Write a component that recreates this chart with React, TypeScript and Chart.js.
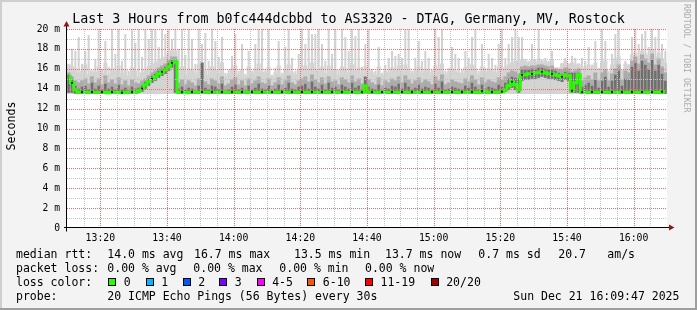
import React, { useEffect, useRef } from 'react';
import { Chart, registerables } from 'chart.js';

Chart.register(...registerables);

// ---- time axis (minutes after 13:00) ----
const FIRST_MINUTE = 10; // 13:10
const LAST_MINUTE = 190; // 16:10
const timeTickMinutes = [20, 40, 60, 80, 100, 120, 140, 160, 180];
const timeTickLabels = ['13:20', '13:40', '14:00', '14:20', '14:40', '15:00', '15:20', '15:40', '16:00'];
const minorTimeStep = 5;

// ---- value axis (ms) ----
const yTickValues = [0, 2, 4, 6, 8, 10, 12, 14, 16, 18, 20];
const yTickLabels = ['0', '2 m', '4 m', '6 m', '8 m', '10 m', '12 m', '14 m', '16 m', '18 m', '20 m'];
const minorValueStep = 1;

const PING_FLOOR = 13.5;

// one value per minute, 13:10 ... 16:09
const medianRtt = [
  15.2, 14.6, 13.9, 13.65, 13.65, 13.65, 13.65, 13.65, 13.65, 13.65,
  13.65, 13.65, 13.6, 13.65, 13.65, 13.65, 13.6, 13.65, 13.65, 13.65,
  13.65, 13.8, 14.0, 14.4, 14.7, 15.0, 15.2, 15.5, 15.7, 15.9,
  16.2, 16.6, 16.7, 13.65, 13.65, 13.6, 13.65, 13.65, 13.65, 13.65,
  13.65, 13.65, 13.65, 13.65, 13.65, 13.65, 13.65, 13.65, 13.65, 13.65,
  13.65, 13.65, 13.65, 13.65, 13.65, 13.65, 13.65, 13.65, 13.65, 13.65,
  13.65, 13.65, 13.65, 13.65, 13.65, 13.65, 13.65, 13.65, 13.65, 13.65,
  13.65, 13.65, 13.65, 13.65, 13.65, 13.65, 13.65, 13.65, 13.65, 13.65,
  13.65, 13.65, 13.65, 13.65, 13.65, 13.65, 13.65, 13.65, 13.65, 14.3,
  13.65, 13.65, 13.65, 13.65, 13.65, 13.65, 13.65, 13.65, 13.65, 13.65,
  13.65, 13.65, 13.65, 13.65, 13.65, 13.65, 13.65, 13.65, 13.65, 13.65,
  13.65, 13.65, 13.65, 13.65, 13.65, 13.65, 13.65, 13.65, 13.65, 13.65,
  13.65, 13.65, 13.65, 13.65, 13.75, 13.75, 13.65, 13.65, 13.65, 13.65,
  13.7, 13.9, 14.3, 14.7, 14.4, 13.9, 15.4, 15.4, 15.5, 15.5,
  15.6, 15.6, 15.7, 15.6, 15.5, 15.5, 15.4, 15.3, 15.2, 15.4,
  15.3, 13.8, 14.6, 15.4, 13.65, 13.65, 13.65, 13.65, 13.65, 13.65,
  13.65, 13.65, 13.65, 13.65, 13.65, 13.65, 13.65, 13.65, 13.65, 13.65,
  13.65, 13.65, 13.65, 13.65, 13.65, 13.65, 13.65, 13.65, 13.7, 13.7,
];

const pingMax = [
  16.5, 18.0, 17.8, 19.2, 16.5, 17.8, 19.4, 15.8, 17.0, 20,
  16.0, 18.8, 16.2, 20, 17.5, 20, 16.8, 19.5, 15.8, 20,
  18.6, 20, 17.2, 20, 19.0, 20, 20, 18.2, 20, 19.5,
  20, 19.0, 20, 18.0, 20, 17.4, 20, 19.0, 16.5, 20,
  18.5, 19.6, 16.8, 20, 18.8, 17.2, 19.2, 15.6, 15.9, 17.3,
  19.5, 15.8, 18.5, 15.5, 17.8, 15.8, 18.5, 20, 20, 16.0,
  20, 15.4, 16.1, 18.8, 15.6, 18.2, 20, 17.1, 15.8, 17.5,
  20, 18.5, 20, 19.5, 19.5, 20, 18.5, 16.8, 20, 17.5,
  20, 15.9, 20, 19.2, 17.8, 20, 19.3, 20, 16.2, 18.5,
  20, 16.0, 15.8, 18.2, 15.6, 16.4, 17.1, 17.8, 17.3, 17.5,
  17.1, 20, 20, 15.8, 17.1, 18.8, 16.8, 17.8, 17.1, 15.9,
  20, 19.2, 20, 15.8, 16.1, 18.2, 17.5, 17.1, 15.9, 17.8,
  17.1, 19.2, 20, 15.8, 18.5, 16.1, 17.5, 17.1, 16.4, 18.5,
  20, 17.1, 18.5, 19.2, 20, 19.2, 19.2, 17.0, 16.8, 18.5,
  16.9, 20, 16.9, 17.1, 16.8, 17.8, 16.1, 16.1, 16.6, 17.1,
  16.5, 17.3, 17.1, 16.5, 17.1, 16.8, 18.2, 16.4, 18.8, 16.1,
  20, 18.8, 15.8, 17.5, 19.5, 20, 15.9, 16.8, 16.4, 19.2,
  20, 18.5, 19.5, 19.8, 18.2, 20, 19.2, 20, 18.5, 17.8,
];

const smokeBand = [
  16.4, 16.2, 16.0, 15.6, 15.8, 16.4, 15.4, 15.8, 15.6, 16.2,
  15.5, 16.6, 15.4, 16.0, 15.8, 16.3, 15.5, 15.9, 15.3, 16.1,
  15.8, 15.2, 15.6, 15.9, 16.2, 16.4, 16.6, 16.9, 17.0, 17.2,
  17.5, 17.8, 17.8, 15.6, 16.2, 15.4, 16.0, 15.8, 15.5, 16.4,
  16.6, 15.8, 15.4, 16.2, 15.9, 15.5, 16.6, 15.2, 15.5, 16.0,
  16.3, 15.4, 15.9, 15.2, 16.2, 15.5, 16.0, 16.5, 15.7, 15.6,
  16.2, 15.2, 15.6, 16.3, 15.3, 15.9, 16.4, 15.6, 15.4, 15.9,
  16.1, 16.3, 15.8, 16.6, 16.0, 15.7, 16.2, 15.5, 16.3, 15.8,
  15.9, 15.4, 16.2, 16.0, 15.6, 16.4, 15.8, 16.1, 15.5, 16.2,
  16.0, 15.6, 15.4, 16.2, 15.3, 15.8, 15.6, 16.1, 15.9, 16.3,
  15.7, 16.4, 16.0, 15.5, 15.8, 16.2, 15.6, 16.0, 15.8, 15.4,
  16.3, 15.9, 16.5, 15.4, 15.7, 16.0, 15.8, 15.6, 15.5, 16.1,
  15.8, 16.4, 16.0, 15.4, 16.2, 15.7, 16.0, 15.8, 15.6, 16.2,
  16.0, 16.2, 16.4, 16.6, 16.8, 16.6, 16.9, 16.8, 16.6, 16.9,
  16.6, 17.0, 16.7, 16.8, 16.6, 16.9, 16.1, 16.1, 16.5, 16.8,
  16.5, 16.6, 16.4, 16.5, 16.0, 16.2, 16.4, 16.0, 16.6, 15.8,
  16.6, 16.8, 15.6, 16.4, 17.0, 17.2, 15.8, 16.5, 16.4, 17.4,
  17.6, 17.2, 17.8, 17.5, 17.4, 17.9, 17.2, 17.6, 17.0, 16.6,
];

const smokeMid = [
  15.6, 15.2, 14.8, 14.6, 14.8, 15.0, 14.5, 15.2, 14.6, 15.0,
  14.4, 15.3, 14.6, 14.9, 14.5, 15.1, 14.4, 14.8, 14.3, 14.9,
  14.6, 14.5, 14.8, 15.0, 15.3, 15.6, 15.8, 16.1, 16.3, 16.5,
  16.9, 17.2, 17.2, 14.6, 14.9, 14.4, 14.8, 14.6, 14.3, 15.0,
  16.6, 14.7, 14.4, 15.0, 14.8, 14.5, 15.2, 14.3, 14.5, 14.9,
  15.1, 14.4, 14.8, 14.3, 15.0, 14.5, 14.8, 15.2, 14.6, 14.5,
  15.0, 14.3, 14.6, 15.1, 14.4, 14.8, 15.3, 14.6, 14.4, 14.8,
  15.0, 15.2, 14.7, 15.4, 14.9, 14.6, 15.1, 14.5, 15.2, 14.7,
  14.8, 14.4, 15.1, 14.9, 14.6, 15.3, 14.7, 15.0, 14.5, 15.2,
  14.9, 14.6, 14.4, 15.1, 14.3, 14.8, 14.6, 15.0, 14.8, 15.2,
  14.6, 15.3, 14.9, 14.5, 14.8, 15.1, 14.6, 14.9, 14.7, 14.4,
  15.2, 14.8, 15.4, 14.4, 14.6, 14.9, 14.7, 14.6, 14.5, 15.0,
  14.7, 15.3, 14.9, 14.4, 15.1, 14.6, 14.9, 14.7, 14.6, 15.1,
  14.9, 15.2, 15.6, 15.8, 15.7, 15.5, 16.2, 16.3, 16.2, 16.3,
  16.3, 16.4, 16.4, 16.3, 16.2, 16.3, 16.0, 15.9, 15.9, 16.1,
  16.0, 15.7, 15.8, 16.0, 14.8, 15.1, 15.3, 14.9, 15.6, 14.8,
  15.6, 15.9, 14.8, 15.5, 16.0, 16.4, 14.9, 15.8, 15.6, 16.8,
  17.2, 16.5, 17.4, 17.0, 16.6, 17.5, 16.4, 17.0, 16.2, 15.6,
];

const smokeCoreHi = [
  15.4, 14.9, 14.3, 14.0, 14.2, 14.3, 13.9, 14.6, 14.0, 14.3,
  13.9, 14.5, 14.0, 14.2, 13.9, 14.4, 13.9, 14.1, 13.8, 14.2,
  14.0, 14.1, 14.3, 14.7, 15.0, 15.3, 15.5, 15.8, 16.0, 16.2,
  16.6, 16.9, 16.9, 14.0, 14.2, 13.9, 14.1, 14.0, 13.8, 14.3,
  16.6, 14.1, 13.9, 14.3, 14.2, 13.9, 14.5, 13.8, 13.9, 14.2,
  14.4, 13.9, 14.1, 13.8, 14.3, 13.9, 14.1, 14.5, 14.0, 13.9,
  14.3, 13.8, 14.0, 14.4, 13.9, 14.1, 14.6, 14.0, 13.9, 14.2,
  14.3, 14.5, 14.0, 14.7, 14.2, 14.0, 14.4, 13.9, 14.6, 14.1,
  14.2, 13.9, 14.4, 14.2, 14.0, 14.6, 14.1, 14.3, 13.9, 15.2,
  14.2, 14.0, 13.9, 14.4, 13.8, 14.1, 14.0, 14.3, 14.2, 14.5,
  14.0, 14.6, 14.2, 13.9, 14.1, 14.4, 14.0, 14.2, 14.1, 13.9,
  14.5, 14.1, 14.7, 13.9, 14.0, 14.2, 14.1, 14.0, 13.9, 14.3,
  14.1, 14.6, 14.2, 13.9, 14.4, 14.0, 14.2, 14.1, 14.0, 14.4,
  14.2, 14.6, 15.0, 15.2, 15.1, 15.0, 15.9, 15.9, 15.9, 16.0,
  16.0, 16.1, 16.1, 16.0, 15.9, 15.9, 15.8, 15.6, 15.5, 15.7,
  15.6, 15.6, 15.6, 15.6, 14.2, 14.4, 14.6, 14.3, 14.9, 14.1,
  14.8, 15.2, 14.2, 14.8, 15.4, 15.8, 14.3, 15.0, 14.9, 16.2,
  16.6, 15.8, 16.8, 16.4, 15.9, 16.9, 15.8, 16.4, 15.5, 14.8,
];

const smokeCoreLo = [
  13.6, 13.6, 13.5, 13.5, 13.5, 13.5, 13.5, 13.5, 13.5, 13.5,
  13.5, 13.5, 13.5, 13.5, 13.5, 13.5, 13.5, 13.5, 13.5, 13.5,
  13.5, 13.6, 13.7, 14.0, 14.3, 14.6, 14.8, 15.1, 15.3, 15.5,
  15.8, 16.1, 13.6, 13.5, 13.5, 13.5, 13.5, 13.5, 13.5, 13.5,
  13.6, 13.5, 13.5, 13.5, 13.5, 13.5, 13.5, 13.5, 13.5, 13.5,
  13.5, 13.5, 13.5, 13.5, 13.5, 13.5, 13.5, 13.5, 13.5, 13.5,
  13.5, 13.5, 13.5, 13.5, 13.5, 13.5, 13.5, 13.5, 13.5, 13.5,
  13.5, 13.5, 13.5, 13.5, 13.5, 13.5, 13.5, 13.5, 13.5, 13.5,
  13.5, 13.5, 13.5, 13.5, 13.5, 13.5, 13.5, 13.5, 13.5, 13.6,
  13.5, 13.5, 13.5, 13.5, 13.5, 13.5, 13.5, 13.5, 13.5, 13.5,
  13.5, 13.5, 13.5, 13.5, 13.5, 13.5, 13.5, 13.5, 13.5, 13.5,
  13.5, 13.5, 13.5, 13.5, 13.5, 13.5, 13.5, 13.5, 13.5, 13.5,
  13.5, 13.5, 13.5, 13.5, 13.5, 13.5, 13.5, 13.5, 13.5, 13.5,
  13.6, 13.7, 13.9, 14.1, 13.9, 13.6, 14.8, 14.9, 14.9, 15.0,
  15.0, 15.1, 15.2, 15.1, 15.0, 15.0, 14.9, 14.8, 14.7, 14.9,
  14.8, 13.6, 13.6, 13.6, 13.5, 13.5, 13.5, 13.5, 13.5, 13.5,
  13.5, 13.5, 13.5, 13.5, 13.5, 13.5, 13.5, 13.5, 13.5, 13.5,
  13.5, 13.5, 13.5, 13.5, 13.5, 13.5, 13.5, 13.5, 13.5, 13.5,
];

// ---- legend ----
const lossLabels = ['0', '1', '2', '3', '4-5', '6-10', '11-19', '20/20'];
const lossColors = ['#26ff00', '#00b8ff', '#0059ff', '#7e00ff', '#ff00ff', '#ff5500', '#ff0000', '#a10000'];

const FONT = "'DejaVu Sans Mono', monospace";

const MAJOR = '#ec6c6c';
const MINOR = '#c2c2c2';

const frame = {
  id: 'frame',
  beforeDraw(chart: any) {
    const { ctx, width, height, chartArea: a } = chart;
    ctx.save();
    ctx.fillStyle = '#f3f3f3';
    ctx.fillRect(0, 0, width, height);
    ctx.fillStyle = '#cfcfcf';
    ctx.fillRect(0, 0, width, 2);
    ctx.fillRect(0, 0, 2, height);
    ctx.fillStyle = '#9e9e9e';
    ctx.fillRect(0, height - 2, width, 2);
    ctx.fillRect(width - 2, 0, 2, height);
    ctx.fillStyle = '#ffffff';
    ctx.fillRect(a.left, a.top, a.right - a.left, a.bottom - a.top);
    ctx.restore();
  },
  afterDatasetsDraw(chart: any) {
    // dotted RRD-style grid, positioned through the chart's own scales
    const { ctx, chartArea: a, scales } = chart;
    const xs = scales.x;
    const ys = scales.y;
    ctx.save();
    ctx.lineWidth = 1;
    ctx.setLineDash([1, 1]);
    const vline = (v: number, color: string) => {
      const px = Math.round(xs.getPixelForValue(v)) + 0.5;
      ctx.strokeStyle = color;
      ctx.beginPath();
      ctx.moveTo(px, a.top);
      ctx.lineTo(px, a.bottom);
      ctx.stroke();
    };
    const hline = (v: number, color: string) => {
      const py = Math.round(ys.getPixelForValue(v)) + 0.5;
      ctx.strokeStyle = color;
      ctx.beginPath();
      ctx.moveTo(a.left, py);
      ctx.lineTo(a.right, py);
      ctx.stroke();
    };
    for (let v = FIRST_MINUTE + minorTimeStep; v < LAST_MINUTE; v += minorTimeStep) {
      if (timeTickMinutes.indexOf(v) < 0) vline(v, MINOR);
    }
    for (let v = minorValueStep; v <= 20; v += minorValueStep) {
      if (yTickValues.indexOf(v) < 0) hline(v, MINOR);
    }
    timeTickMinutes.forEach((v) => vline(v, MAJOR));
    yTickValues.forEach((v) => { if (v > 0) hline(v - 0.0001, MAJOR); });
    ctx.restore();
  },
  afterDraw(chart: any) {
    const { ctx, chartArea: a } = chart;
    ctx.save();
    ctx.strokeStyle = '#000000';
    ctx.lineWidth = 1;
    const ax = a.left - 0.5;
    const ay = a.bottom - 0.5;
    ctx.beginPath();
    ctx.moveTo(ax, ay + 4);
    ctx.lineTo(ax, a.top - 4);
    ctx.moveTo(a.left - 3, ay);
    ctx.lineTo(a.right + 4, ay);
    ctx.stroke();
    ctx.fillStyle = '#8b1a1a';
    ctx.beginPath();
    ctx.moveTo(ax - 3, a.top - 2.5);
    ctx.lineTo(ax + 3, a.top - 2.5);
    ctx.lineTo(ax, a.top - 8);
    ctx.closePath();
    ctx.fill();
    ctx.beginPath();
    ctx.moveTo(a.right + 2, ay - 3);
    ctx.lineTo(a.right + 2, ay + 3);
    ctx.lineTo(a.right + 7.5, ay);
    ctx.closePath();
    ctx.fill();
    ctx.restore();
  },
};

export default function App() {
  const ref = useRef<HTMLCanvasElement | null>(null);

  useEffect(() => {
    if (!ref.current) return;
    const xs = medianRtt.map((_, i) => FIRST_MINUTE + i + 0.5);
    const chart = new Chart(ref.current, {
      type: 'bar',
      data: {
        datasets: [
          {
            type: 'line',
            data: xs.map((x, i) => ({ x, y: medianRtt[i] })),
            borderColor: '#26ff00',
            borderWidth: 3,
            stepped: 'middle',
            pointRadius: (c: any) => (c.dataIndex % 3 === 1 ? 1.1 : 0),
            pointBackgroundColor: '#000000',
            pointBorderWidth: 0,
            order: 1,
          } as any,
          {
            data: xs.map((x, i) => ({ x, y: [smokeCoreLo[i], smokeCoreHi[i]] })),
            backgroundColor: '#6e6e6e',
            barPercentage: 0.75,
            categoryPercentage: 1,
            order: 2,
          },
          {
            data: xs.map((x, i) => ({ x, y: [smokeCoreLo[i], smokeMid[i]] })),
            backgroundColor: '#acacac',
            barPercentage: 1,
            categoryPercentage: 1,
            order: 3,
          },
          {
            data: xs.map((x, i) => ({ x, y: [PING_FLOOR, smokeBand[i]] })),
            backgroundColor: '#d4d4d4',
            barPercentage: 1,
            categoryPercentage: 1,
            order: 4,
          },
          {
            data: xs.map((x, i) => ({ x, y: [PING_FLOOR, pingMax[i]] })),
            backgroundColor: '#d2d2d2',
            barPercentage: 0.62,
            categoryPercentage: 1,
            order: 5,
          },
        ],
      },
      options: {
        animation: false,
        responsive: false,
        devicePixelRatio: 1,
        events: [],
        layout: { padding: { top: 29, right: 30, left: 0, bottom: 0 } },
        datasets: { bar: { grouped: false } } as any,
        plugins: { legend: { display: false }, tooltip: { enabled: false }, title: { display: false } },
        scales: {
          x: {
            type: 'linear',
            min: FIRST_MINUTE,
            max: LAST_MINUTE,
            offset: false,
            afterFit: (s: any) => { s.height = 82; },
            grid: { display: false, drawTicks: false },
            border: { display: false },
            ticks: {
              stepSize: minorTimeStep,
              autoSkip: false,
              maxRotation: 0,
              padding: 4.5,
              color: '#000',
              font: { family: FONT, size: 9.8 },
              callback: (v: any) => {
                const k = timeTickMinutes.indexOf(Math.round(Number(v)));
                return k >= 0 ? timeTickLabels[k] : '';
              },
            },
          },
          y: {
            type: 'linear',
            min: 0,
            max: 20,
            afterFit: (s: any) => { s.width = 67; },
            grid: { display: false, drawTicks: false },
            border: { display: false },
            ticks: {
              stepSize: minorValueStep,
              autoSkip: false,
              padding: 7,
              color: '#000',
              font: { family: FONT, size: 9.7 },
              callback: (v: any) => {
                const k = yTickValues.indexOf(Math.round(Number(v)));
                return k >= 0 ? yTickLabels[k] : '';
              },
            },
          },
        },
      },
      plugins: [frame],
    });
    return () => chart.destroy();
  }, []);

  const txt: React.CSSProperties = {
    position: 'absolute',
    fontFamily: FONT,
    fontSize: '11.5px',
    lineHeight: '14px',
    whiteSpace: 'pre',
    color: '#000',
  };
  const rowTop = [247.3, 261.3, 275, 289];

  const row1: [number, string][] = [
    [16, 'median rtt:'], [107.3, '14.0 ms avg'], [194, '16.7 ms max'], [294, '13.5 ms min'],
    [385, '13.7 ms now'], [478.3, '0.7 ms sd'], [558.3, '20.7'], [607.3, 'am/s'],
  ];
  const row2: [number, string][] = [
    [16, 'packet loss:'], [107.3, '0.00 % avg'], [193.3, '0.00 % max'], [279.3, '0.00 % min'], [365, '0.00 % now'],
  ];
  const row4: [number, string][] = [
    [16, 'probe:'], [107.3, '20 ICMP Echo Pings (56 Bytes) every 30s'], [513.3, 'Sun Dec 21 16:09:47 2025'],
  ];
  const squareX = [108.3, 145.7, 182.7, 219.3, 256.7, 307.3, 365, 430.7];

  return (
    <div style={{ position: 'fixed', left: 0, top: 0, width: 697, height: 310, overflow: 'hidden' }}>
      <canvas ref={ref} width={697} height={310} style={{ position: 'absolute', left: 0, top: 0, width: 697, height: 310 }} />
      <div style={{ ...txt, left: 0, top: 11.4, width: 697, textAlign: 'center', fontSize: '13.3px', lineHeight: '16px' }}>
        Last 3 Hours from b0fc444dcbbd to AS3320 - DTAG, Germany, MV, Rostock
      </div>
      <div style={{ ...txt, left: -19, top: 119, width: 60, textAlign: 'center', fontSize: '11.6px', transform: 'rotate(-90deg)' }}>
        Seconds
      </div>
      <div style={{ ...txt, left: 631.5, top: 54, width: 110, height: 10, fontSize: '8.2px', lineHeight: '10px', color: '#aaaaaa', transform: 'rotate(90deg)' }}>
        RRDTOOL / TOBI OETIKER
      </div>
      {row1.map(([x, s], i) => (
        <div key={'r1' + i} style={{ ...txt, left: x, top: rowTop[0] }}>{s}</div>
      ))}
      {row2.map(([x, s], i) => (
        <div key={'r2' + i} style={{ ...txt, left: x, top: rowTop[1] }}>{s}</div>
      ))}
      <div style={{ ...txt, left: 16, top: rowTop[2] }}>loss color:</div>
      {lossLabels.map((l, i) => (
        <React.Fragment key={'lc' + i}>
          <div style={{ position: 'absolute', left: squareX[i], top: 278, width: 8, height: 8, boxSizing: 'border-box', border: '1px solid #000', background: lossColors[i] }} />
          <div style={{ ...txt, left: squareX[i] + 15.5, top: rowTop[2] }}>{l}</div>
        </React.Fragment>
      ))}
      {row4.map(([x, s], i) => (
        <div key={'r4' + i} style={{ ...txt, left: x, top: rowTop[3] }}>{s}</div>
      ))}
    </div>
  );
}
